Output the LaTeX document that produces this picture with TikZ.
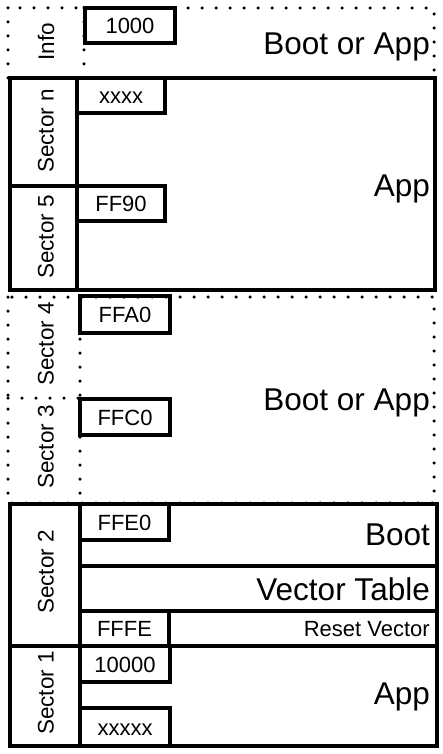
\documentclass[tikz,border=0pt]{standalone}
\usepackage{fontspec}
\setmainfont{Liberation Sans}
\begin{document}
\begin{tikzpicture}[
    x=1pt, y=-1pt,
    blk/.style={draw, line width=3.2pt},
    dotline/.style={draw, line width=3.5pt, line cap=round, dash pattern=on 0pt off 14pt},
    addr/.style={draw, line width=3.2pt, anchor=north west, outer sep=0pt, inner sep=0pt, minimum width=90pt, minimum height=36pt, text height=16pt, text depth=0pt, font=\fontsize{22}{24}\selectfont},
    sec/.style={rotate=90, inner sep=0pt, font=\fontsize{22.5}{24}\selectfont},
    big/.style={anchor=base east, inner sep=0pt, font=\fontsize{31.5}{34}\selectfont},
    small/.style={anchor=base east, inner sep=0pt, font=\fontsize{22}{24}\selectfont}
]
\useasboundingbox (0,0) rectangle (442,754);

\draw[dotline] (8,8) rectangle (434,78);
\draw[dotline] (84,8) -- (84,78);
\draw[dotline] (8,297) rectangle (434,503);
\draw[dotline] (80,297) -- (80,503);
\draw[dotline] (8,398) -- (80,398);

\draw[blk] (10,78) rectangle (435,290);
\draw[blk] (77,78) -- (77,290);
\draw[blk] (10,186) -- (77,186);

\draw[blk] (10,504) rectangle (437,746);
\draw[blk] (80,504) -- (80,746);
\draw[blk] (10,646) -- (437,646);
\draw[blk] (80,566) -- (437,566);
\draw[blk] (80,611) -- (437,611);

\node[sec] (info) at (46,42) {Info};
\node[sec] (secn) at (46,131) {Sector n};
\node[sec] (sec5) at (46,237) {Sector 5};
\node[sec] (sec4) at (46,344) {Sector 4};
\node[sec] (sec3) at (46,447) {Sector 3};
\node[sec] (sec2) at (46,572) {Sector 2};
\node[sec] (sec1) at (46,693) {Sector 1};

\node[addr, minimum width=90pt, minimum height=35pt] (a1000) at (85,8) {1000};
\node[addr, minimum width=88pt, minimum height=35pt] (axxxx) at (77,78) {xxxx};
\node[addr, minimum width=88pt, minimum height=35pt] (aff90) at (77,186) {FF90};
\node[addr, minimum height=37pt] (affa0) at (80,296) {FFA0};
\node[addr] (affc0) at (80,399) {FFC0};
\node[addr, minimum width=89pt] (affe0) at (80,504) {FFE0};
\node[addr, minimum width=89pt, minimum height=35pt] (afffe) at (80,611) {FFFE};
\node[addr] (a10000) at (80,646) {10000};
\node[addr, minimum height=38pt] (axxxxx) at (80,708) {xxxxx};

\node[big] (infotxt) at (430,55) {Boot or App};
\node[big] (apptop) at (430,196) {App};
\node[big] (bootapp) at (430,410) {Boot or App};
\node[big] (boot) at (430,545) {Boot};
\node[big] (vtable) at (430,600) {Vector Table};
\node[small] (reset) at (430,636) {Reset Vector};
\node[big] (appbot) at (430,704) {App};
\end{tikzpicture}
\end{document}
